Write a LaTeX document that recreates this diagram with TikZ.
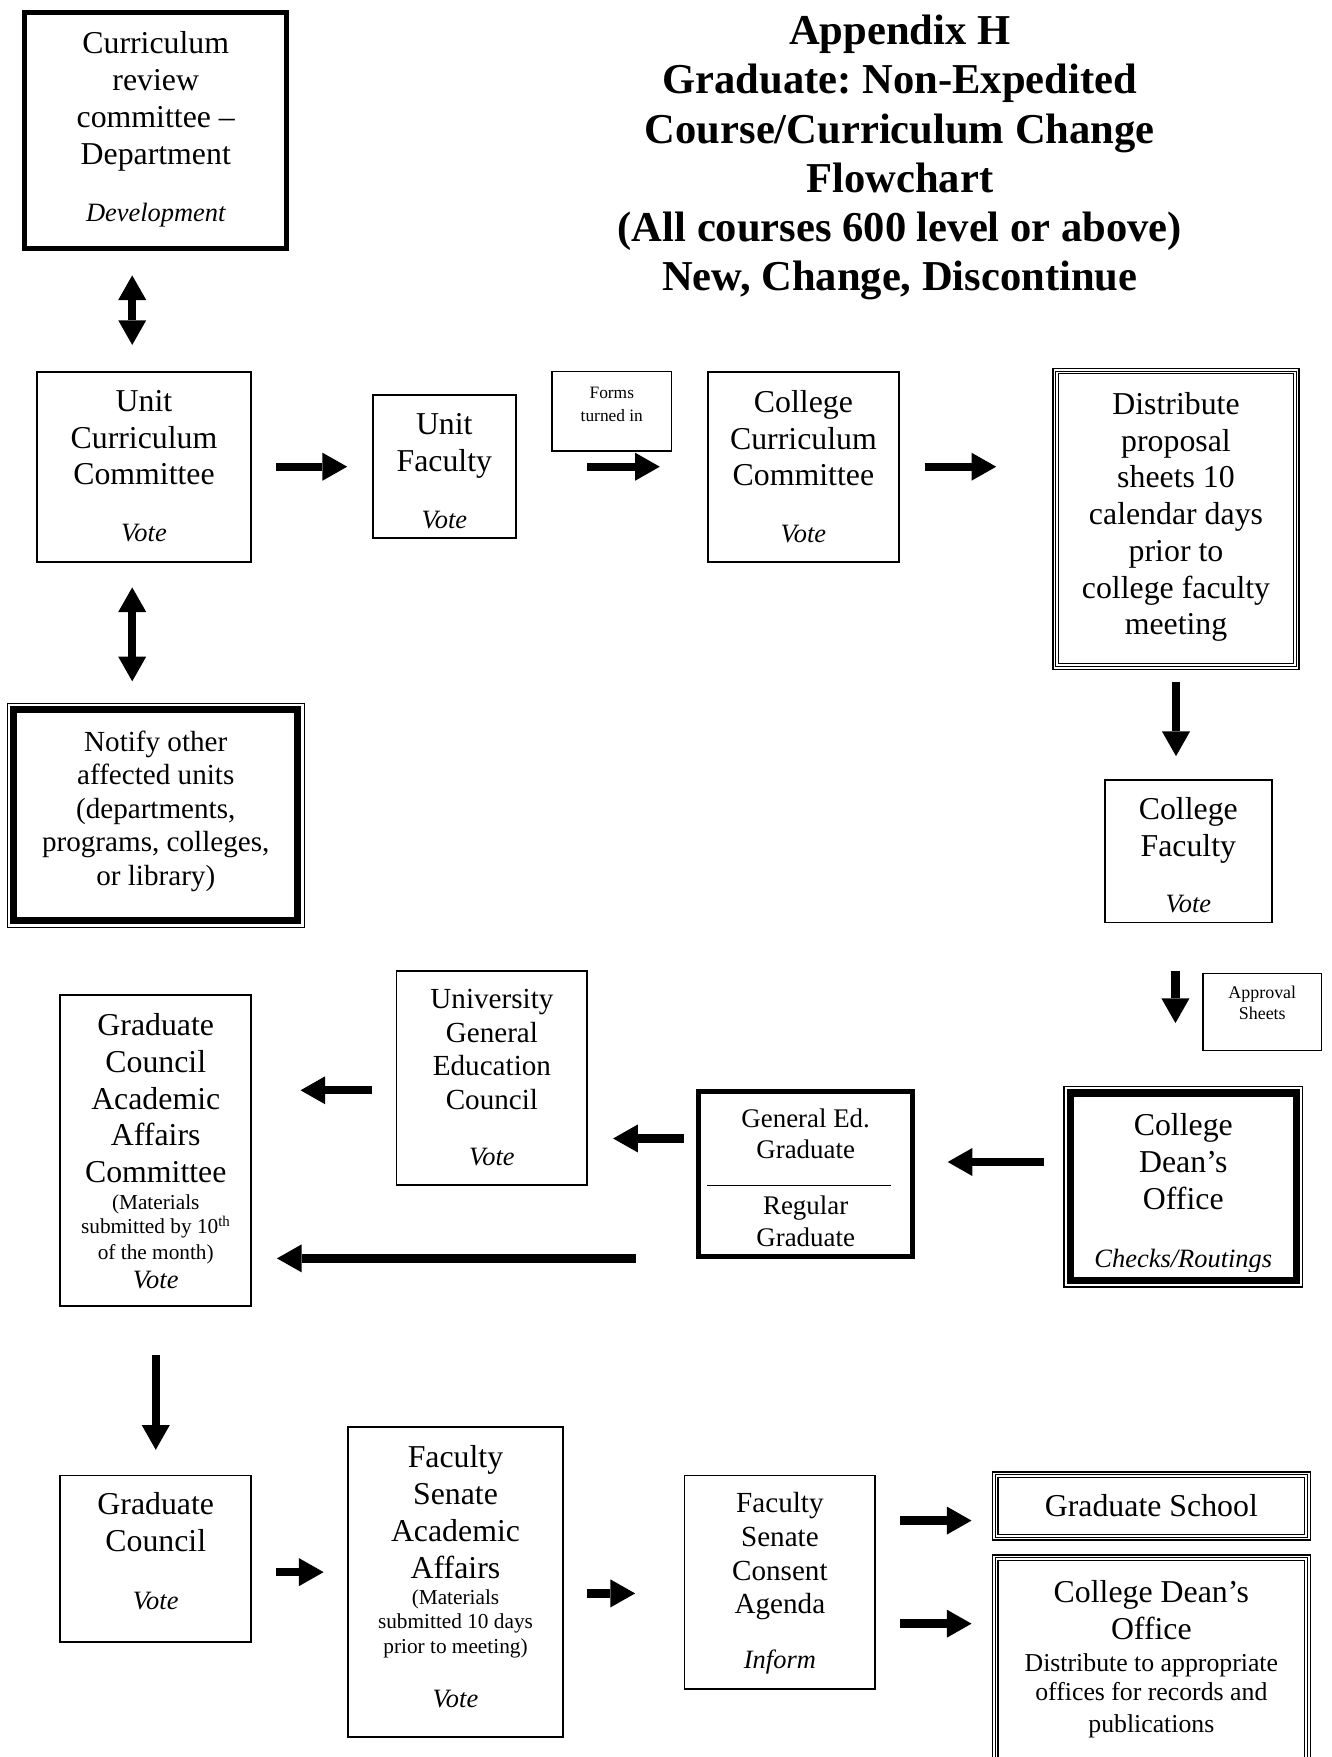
\documentclass[tikz,border=0pt]{standalone}
\usepackage{fontspec}
\setmainfont{Liberation Serif}
\usetikzlibrary{arrows.meta}
\frenchspacing
\newcommand\fs[2]{\fontsize{#1pt}{#2pt}\selectfont}
\newcommand\fv{\fontsize{23.6pt}{33pt}\selectfont\itshape}
\newcommand\tripleframe[2][0]{%
  \foreach \fdist/\fwid in {0.65/1.3,3.2/1.1,5.6/1.1}{%
    \draw[line width=\fwid pt] ([shift={(\fdist pt,-\fdist pt)}]#2.north west) rectangle ([shift={(-\fdist pt,\fdist pt-#1pt)}]#2.south east);}}
\newcommand\thinthick[1]{%
  \draw[line width=1.1pt] ([shift={(0.55pt,-0.55pt)}]#1.north west) rectangle ([shift={(-0.55pt,0.55pt)}]#1.south east);
  \draw[line width=6.3pt] ([shift={(6.4pt,-6.4pt)}]#1.north west) rectangle ([shift={(-6.4pt,6.4pt)}]#1.south east);}
\begin{document}
\begin{tikzpicture}[x=1pt,y=-1pt,
  box/.style={draw,line width=1.6pt,inner sep=0pt,outer sep=0pt},
  frm/.style={inner sep=0pt,outer sep=0pt},
  txt/.style={inner sep=0pt,outer sep=0pt,align=center,anchor=north,font=\fs{28.4}{33}},
  arr/.style={line width=7.5pt,-{Triangle[width=25pt,length=22pt,line width=0pt]}},
  darr/.style={line width=7.5pt,{Triangle[width=25pt,length=22pt,line width=0pt]}-{Triangle[width=25pt,length=22pt,line width=0pt]}}]
\clip (0,0) rectangle (1188,1568);
\fill[white] (0,0) rectangle (1188,1568);

% title
\node[txt,font=\fs{38}{43.8}\bfseries] (title) at (803,13.7) {Appendix H\\Graduate: Non-Expedited\\Course/Curriculum Change\\Flowchart\\(All courses 600 level or above)\\New, Change, Discontinue};

% curriculum review committee
\node[box,line width=4.5pt,minimum width=233.5pt,minimum height=210.5pt] (cr) at (139,116.5) {};
\node[txt] (crt) at (139,28) {Curriculum\\review\\committee –\\Department\\[17.8pt]{\fv Development}};

% unit curriculum committee
\node[box,minimum width=191.4pt,minimum height=169.4pt] (ucc) at (128.5,416.5) {};
\node[txt] (ucct) at (128.5,348) {Unit\\Curriculum\\Committee\\[17.4pt]{\fv Vote}};

% unit faculty
\node[box,minimum width=127.4pt,minimum height=127.4pt] (uf) at (396.5,416.5) {};
\node[txt] (uft) at (396.5,369) {Unit\\Faculty\\[17.4pt]{\fv Vote}};

% forms turned in
\node[box,line width=1.3pt,minimum width=106.7pt,minimum height=70.7pt] (forms) at (546,367) {};
\node[txt,font=\fs{15.5}{20}] (formst) at (546,345.6) {Forms\\turned in};

% college curriculum committee
\node[box,minimum width=170.4pt,minimum height=169.4pt] (ccc) at (717,416.5) {};
\node[txt] (ccct) at (717,348) {College\\Curriculum\\Committee\\[17.4pt]{\fv Vote}};

% distribute
\node[frm,minimum width=221pt,minimum height=270pt] (dist) at (1049.5,463) {};
\tripleframe{dist}
\node[txt,font=\fs{28.4}{32.8}] (distt) at (1049.5,350) {Distribute\\proposal\\sheets 10\\calendar days\\prior to\\college faculty\\meeting};

% college faculty
\node[box,minimum width=149.4pt,minimum height=127.4pt] (cf) at (1060.5,759.5) {};
\node[txt] (cft) at (1060.5,712) {College\\Faculty\\[16.4pt]{\fv Vote}};

% notify
\node[frm,minimum width=266pt,minimum height=201pt] (notify) at (139,727.5) {};
\thinthick{notify}
\node[txt,font=\fs{26}{30}] (notifyt) at (139,652) {Notify other\\affected units\\(departments,\\programs, colleges,\\or library)};

% approval sheets
\node[box,line width=1.3pt,minimum width=105.7pt,minimum height=68.7pt] (appr) at (1126.5,903) {};
\node[txt,font=\fs{16}{18}] (apprt) at (1126.5,880.4) {Approval\\Sheets};

% college dean's office
\node[frm,minimum width=214pt,minimum height=180pt] (cdo) at (1056,1059) {};
\node[txt] (cdot) at (1056,994) {College\\Dean’s\\Office};
\begin{scope}
\clip (949,969) rectangle (1163,1135);
\node[inner sep=0pt,anchor=base,font=\fv] (cdon) at (1056,1131) {Checks/Routings};
\end{scope}
\thinthick{cdo}

% general ed / regular graduate
\node[box,line width=4.5pt,minimum width=191.5pt,minimum height=147.5pt] (gened) at (719,1048) {};
\node[txt,font=\fs{24}{28}] (genedt) at (719,989.6) {General Ed.\\Graduate};
\node[txt,font=\fs{24}{28}] (regt) at (719,1067.6) {Regular\\Graduate};
\draw[line width=1.6pt] ([shift={(8pt,-10pt)}]gened.west) -- ([shift={(-20pt,-10pt)}]gened.east);

% university general education council
\node[box,minimum width=170.4pt,minimum height=190.4pt] (ugec) at (439,962) {};
\node[txt,font=\fs{26}{30}] (ugect) at (439,883) {University\\General\\Education\\Council\\[20.2pt]{\fv Vote}};

% graduate council academic affairs committee
\node[box,minimum width=170.4pt,minimum height=277.4pt] (gcaac) at (139,1026.5) {};
\node[txt] (gcaact) at (139,904) {Graduate\\Council\\Academic\\Affairs\\Committee\\[-9.1pt]{\fs{19}{22}(Materials}\\[-12pt]{\fs{19}{22}submitted by 10\textsuperscript{th}}\\[-10pt]{\fs{19}{22}of the month)}\\[-6.5pt]{\fv Vote}};

% graduate council
\node[box,minimum width=170.4pt,minimum height=148.4pt] (gc) at (139,1391) {};
\node[txt] (gct) at (139,1332) {Graduate\\Council\\[18.4pt]{\fv Vote}};

% faculty senate academic affairs
\node[box,minimum width=191.4pt,minimum height=276.4pt] (fsaa) at (406.5,1412) {};
\node[txt] (fsaat) at (406.5,1290) {Faculty\\Senate\\Academic\\Affairs\\[-10.1pt]{\fs{19}{22}(Materials}\\[-11pt]{\fs{19}{22}submitted 10 days}\\[-11pt]{\fs{19}{22}prior to meeting)}\\[15.5pt]{\fv Vote}};

% faculty senate consent agenda
\node[box,minimum width=170.4pt,minimum height=190.4pt] (fsca) at (696,1412) {};
\node[txt,font=\fs{26}{30}] (fscat) at (696,1332) {Faculty\\Senate\\Consent\\Agenda\\[19.2pt]{\fv Inform}};

% graduate school
\node[frm,minimum width=285pt,minimum height=62pt,font=\fs{28.4}{33}] (gs) at (1027.5,1344) {Graduate School};
\tripleframe{gs}

% college dean's office (final)
\node[frm,anchor=north,minimum width=285pt,minimum height=190pt] (cdo2) at (1027.5,1387) {};
\tripleframe[80]{cdo2}
\node[txt] (cdo2t) at (1027.5,1410) {College Dean’s\\Office\\[-3.8pt]{\fs{23}{27}Distribute to appropriate}\\[-7pt]{\fs{23}{27}offices for records and}\\[-5pt]{\fs{23}{27}publications}};

% connectors
\draw[darr,shorten <=24pt,shorten >=24pt] ([xshift=-21pt]cr.south) -- ([xshift=-21pt]cr.south |- ucc.north);
\draw[arr,shorten <=22pt,shorten >=23pt] (ucc.east) -- (uf.west);
\draw[arr,shorten <=64pt,shorten >=43pt] (uf.east) -- (ccc.west);
\draw[arr,shorten <=23pt,shorten >=50pt] (ccc.east) -- (ccc.east -| dist.west);
\draw[arr,shorten <=11pt,shorten >=21pt] (dist.south) -- (dist.south |- cf.north);
\draw[darr,shorten <=23pt,shorten >=19pt] ([xshift=-10.5pt]ucc.south) -- ([xshift=-10.5pt]ucc.south |- notify.north);
\draw[arr,shorten <=43pt,shorten >=56pt] ([xshift=-11.5pt]cf.south) -- ([xshift=-11.5pt]cf.south |- cdo.north);
\draw[arr,shorten <=17pt,shorten >=31pt] ([yshift=22pt]cdo.west) -- ([yshift=22pt]cdo.west -| gened.east);
\draw[arr,shorten <=13pt,shorten >=23pt] ([yshift=32pt]gened.west) -- ([yshift=32pt]gened.west -| ugec.east);
\draw[arr,shorten <=56pt,shorten >=23pt] ([yshift=-75pt]gened.west) -- ([yshift=-75pt]gened.west -| gcaac.east);
\draw[arr,shorten <=22pt,shorten >=44pt] ([yshift=-11pt]ugec.west) -- ([yshift=-11pt]ugec.west -| gcaac.east);
\draw[arr,shorten <=44pt,shorten >=23pt] (gcaac.south) -- (gc.north);
\draw[arr,shorten <=22pt,shorten >=22pt] ([yshift=-12pt]gc.east) -- ([yshift=-12pt]gc.east -| fsaa.west);
\draw[arr,shorten <=22pt,shorten >=44pt] ([yshift=-10pt]fsaa.east) -- ([yshift=-10pt]fsaa.east -| fsca.west);
\draw[arr,shorten <=22pt,shorten >=18pt] ([yshift=55pt]fsca.east) -- ([yshift=55pt]fsca.east -| gs.west);
\draw[arr,shorten <=22pt,shorten >=18pt] ([yshift=-37pt]fsca.east) -- ([yshift=-37pt]fsca.east -| cdo2.west);
\end{tikzpicture}
\end{document}
